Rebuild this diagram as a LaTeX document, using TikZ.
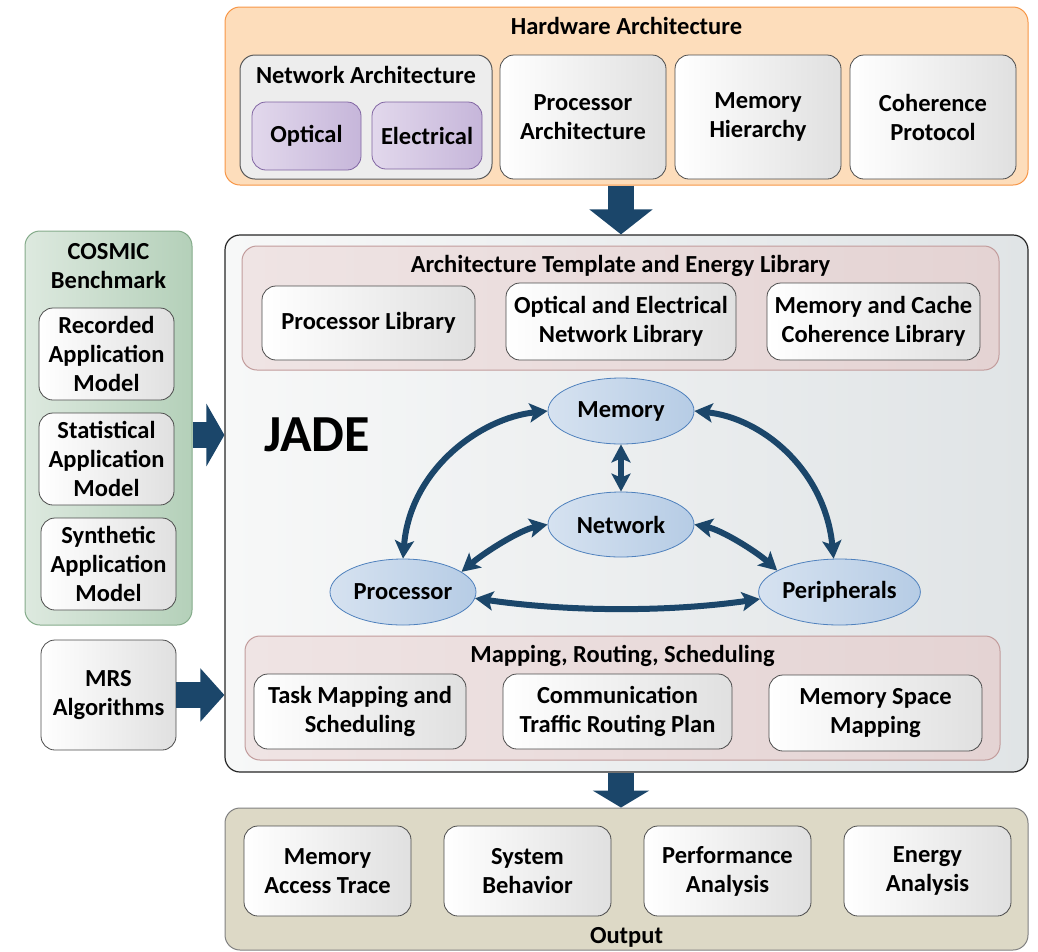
\documentclass[tikz,border=0pt]{standalone}
\usepackage{fontspec}
\setmainfont{Carlito}
\usetikzlibrary{arrows.meta,shapes.geometric}

\definecolor{arrowblue}{HTML}{1B466A}
\definecolor{hwfill}{HTML}{FDDDBB}
\definecolor{hwline}{HTML}{F79646}
\definecolor{purpleL}{HTML}{E2D8EC}
\definecolor{purpleR}{HTML}{C6B6DA}
\definecolor{purpleline}{HTML}{8064A2}
\definecolor{pinkL}{HTML}{EFE4E4}
\definecolor{pinkR}{HTML}{E4D3D3}
\definecolor{pinkline}{HTML}{C29C9C}
\definecolor{jadeL}{HTML}{F7F8F8}
\definecolor{jadeR}{HTML}{E0E4E6}
\definecolor{ellL}{HTML}{D6E2F0}
\definecolor{ellR}{HTML}{B6CCE5}
\definecolor{ellline}{HTML}{4F81BD}
\definecolor{greenL}{HTML}{DDE9DF}
\definecolor{greenR}{HTML}{B4D0B9}
\definecolor{greenline}{HTML}{84AB8A}
\definecolor{outfill}{HTML}{DDD9C6}
\definecolor{cardR}{HTML}{E0E0E0}

\begin{document}
\begin{tikzpicture}[x=1pt,y=-1pt,
  every node/.style={font=\fontsize{24.5}{29}\selectfont\bfseries, align=center, inner sep=0pt},
  group/.style={draw, rounded corners=15pt, line width=1pt},
  card/.style={draw=black!70, line width=0.8pt, rounded corners=14pt, left color=white, right color=cardR},
  hwgroup/.style={group, draw=hwline, fill=hwfill},
  graygroup/.style={group, draw=black!65, fill=black!7},
  pinkgroup/.style={group, draw=pinkline, left color=pinkL, right color=pinkR},
  optbox/.style={draw=purpleline, line width=0.8pt, rounded corners=14pt, left color=purpleL, right color=purpleR},
  unit/.style={ellipse, draw=ellline, line width=0.8pt, left color=ellL, right color=ellR},
  blockarrow/.style={draw=arrowblue, line width=26pt},
  link/.style={draw=arrowblue, line width=6pt, {Stealth[length=18pt,width=19pt,inset=4pt]}-{Stealth[length=18pt,width=19pt,inset=4pt]}}
]
\useasboundingbox (0,0) rectangle (1038,951);

% ---------- hardware architecture ----------
\node[hwgroup, minimum width=803pt, minimum height=178pt] (hw) at (626.5,96) {};
\node (hwtitle) at (626.5,26) {Hardware Architecture};
\node[graygroup, minimum width=252pt, minimum height=124pt] (netarch) at (366,117) {};
\node (nattitle) at (366,75) {Network Architecture};
\node[optbox, minimum width=109pt, minimum height=68pt] (optical) at (306.5,136) {Optical};
\node[optbox, minimum width=110pt, minimum height=67pt] (electrical) at (427,135.5) {Electrical};
\node[card, minimum width=166pt, minimum height=124pt] (procarch) at (583,117) {Processor\\Architecture};
\node[card, minimum width=166pt, minimum height=124pt] (memhier) at (758,117) {Memory\\Hierarchy};
\node[card, minimum width=166pt, minimum height=124pt] (coher) at (933,117) {Coherence\\Protocol};

% ---------- JADE ----------
\node[draw=black!85, line width=1.2pt, rounded corners=15pt, left color=jadeL, right color=jadeR,
      minimum width=803pt, minimum height=537pt] (jade) at (626.5,503.5) {};
\node[font=\fontsize{52}{58}\selectfont\bfseries] (jadetxt) at (317,435) {JADE};

\node[pinkgroup, minimum width=757pt, minimum height=124pt] (arch) at (620.5,308) {};
\node (archtitle) at (620.5,266) {Architecture Template and Energy Library};
\node[card, minimum width=213pt, minimum height=74pt] (plib) at (368.5,323) {Processor Library};
\node[card, minimum width=230pt, minimum height=77pt] (onlib) at (621,321.5) {Optical and Electrical\\Network Library};
\node[card, minimum width=213pt, minimum height=77pt] (mclib) at (873.5,321.5) {Memory and Cache\\Coherence Library};

\node[unit, minimum width=146pt, minimum height=66pt] (mem) at (621,411) {Memory};
\node[unit, minimum width=146pt, minimum height=65pt] (net) at (621,524.5) {Network};
\node[unit, minimum width=146pt, minimum height=66pt] (proc) at (403,592) {Processor};
\node[unit, minimum width=145pt, minimum height=66pt] (peri) at (839.5,592) {Peripherals};

\draw[link] (mem.west) .. controls (480,418) and (410,470) .. (proc.north);
\draw[link] (mem.east) .. controls (762,418) and (825,470) .. (peri.100);
\draw[link] (mem.south) -- (net.north);
\draw[link] (net.west) .. controls (520,530) and (485,552) .. (proc.19);
\draw[link] (net.east) .. controls (722,530) and (757,552) .. (peri.161);
\draw[link] (proc.-5) .. controls (570,612) and (670,612) .. (peri.185);

\node[pinkgroup, minimum width=755pt, minimum height=124pt] (mrsgroup) at (622.5,698) {};
\node (mrstitle) at (622.5,656) {Mapping, Routing, Scheduling};
\node[card, minimum width=212pt, minimum height=75pt] (task) at (360,711.5) {Task Mapping and\\Scheduling};
\node[card, minimum width=229pt, minimum height=75pt] (comm) at (617.5,711.5) {Communication\\Traffic Routing Plan};
\node[card, minimum width=213pt, minimum height=76pt] (msm) at (875.5,713) {Memory Space\\Mapping};

% ---------- inputs on the left ----------
\node[group, draw=greenline, left color=greenL, right color=greenR,
      minimum width=167pt, minimum height=394pt] (cosmic) at (108.5,428) {};
\node (cosmictitle) at (108.5,266) {COSMIC\\Benchmark};
\node[card, minimum width=135pt, minimum height=92pt] (rec) at (106.5,354) {Recorded\\Application\\Model};
\node[card, minimum width=135pt, minimum height=92pt] (stat) at (106.5,459) {Statistical\\Application\\Model};
\node[card, minimum width=135pt, minimum height=92pt] (syn) at (108.5,564) {Synthetic\\Application\\Model};
\node[card, minimum width=135pt, minimum height=110pt] (mrs) at (108.5,695) {MRS\\Algorithms};

% ---------- output ----------
\node[group, draw=black!50, fill=outfill, minimum width=803pt, minimum height=142pt] (out) at (626.5,879) {};
\node (outtitle) at (626.5,937) {Output};
\node[card, minimum width=167pt, minimum height=90pt] (mat) at (327.5,871) {Memory\\Access Trace};
\node[card, minimum width=167pt, minimum height=90pt] (sb) at (527.5,871) {System\\Behavior};
\node[card, minimum width=167pt, minimum height=90pt] (pa) at (727.5,871) {Performance\\Analysis};
\node[card, minimum width=167pt, minimum height=90pt] (ea) at (927.5,871) {Energy\\Analysis};

% ---------- block arrows ----------
\draw[blockarrow, -{Triangle[length=25pt,width=62pt]}] (hw.south -| mem.center) -- (jade.north -| mem.center);
\draw[blockarrow, -{Triangle[length=18pt,width=62pt]}] (cosmic.east |- jadetxt.center) -- (jade.west |- jadetxt.center);
\draw[blockarrow, -{Triangle[length=24pt,width=52pt]}] (mrs.east) -- (jade.west |- mrs.east);
\draw[blockarrow, -{Triangle[length=17pt,width=56pt]}] (jade.south -| mem.center) -- (out.north -| mem.center);
\end{tikzpicture}
\end{document}
